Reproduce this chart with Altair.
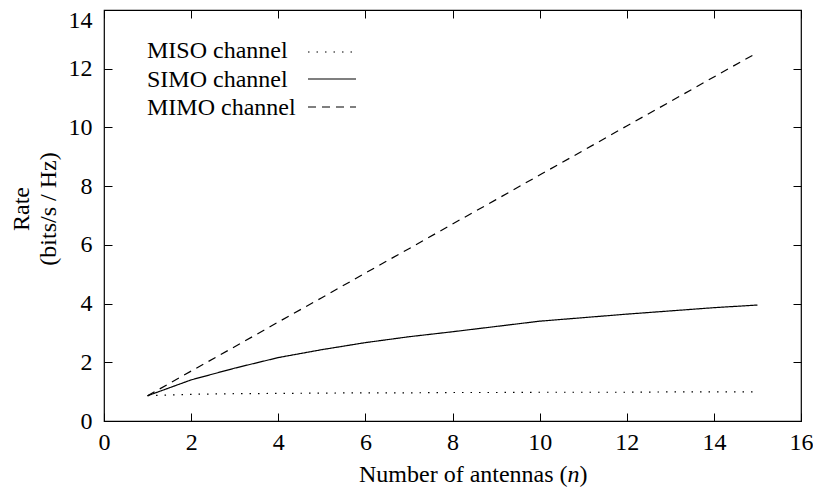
import altair as alt
import pandas as pd

# ---- data ----
n_antennas = list(range(1, 16))
miso_rate = [0.86, 0.91, 0.93, 0.94, 0.95, 0.96, 0.96, 0.97, 0.97, 0.98, 0.98, 0.98, 0.99, 0.99, 0.99]
simo_rate = [0.86, 1.40, 1.80, 2.16, 2.43, 2.67, 2.87, 3.04, 3.22, 3.40, 3.52, 3.64, 3.75, 3.86, 3.95]
mimo_rate = [0.86, 1.70, 2.53, 3.37, 4.20, 5.04, 5.87, 6.71, 7.54, 8.38, 9.21, 10.05, 10.88, 11.72, 12.55]
series_names = ["MISO channel", "SIMO channel", "MIMO channel"]
x_ticks = [0, 2, 4, 6, 8, 10, 12, 14, 16]
y_ticks = [0, 2, 4, 6, 8, 10, 12, 14]
y_title_lines = ["Rate", "(bits/s / Hz)"]
x_title_parts = ["Number of antennas (", "n", ")"]

FONT = "Liberation Serif"
FS = 24
W, H = 697, 411

rows = []
for name, vals in zip(series_names, [miso_rate, simo_rate, mimo_rate]):
    for n, v in zip(n_antennas, vals):
        rows.append({"n": n, "rate": v, "series": name})
df = pd.DataFrame(rows)

x_scale = alt.Scale(domain=[0, 16], nice=False, zero=False)
y_scale = alt.Scale(domain=[0, 14], nice=False, zero=False)
dash_scale = alt.Scale(domain=series_names, range=[[1.5, 7], [1, 0], [8, 6]])

common_axis = dict(offset=-8, tickSize=8, domain=False, grid=False, title=None,
                   tickColor="black", tickWidth=1, labelFont=FONT, labelFontSize=FS,
                   labelColor="black", labelFlush=False, labelOverlap=False, labelBound=False)

lines = alt.Chart(df).mark_line(color="black", strokeWidth=1.2).encode(
    x=alt.X("n:Q", scale=x_scale,
            axis=alt.Axis(orient="bottom", values=x_ticks, labelPadding=9, **common_axis)),
    y=alt.Y("rate:Q", scale=y_scale,
            axis=alt.Axis(orient="left", values=y_ticks, labelPadding=12,
                          labelBaseline={"condition": {"test": "datum.value == 14", "value": "top"},
                                         "value": "middle"},
                          labelOffset={"condition": {"test": "datum.value == 14", "value": -2},
                                       "value": 0},
                          **common_axis)),
    strokeDash=alt.StrokeDash("series:N", scale=dash_scale, legend=None),
    detail="series:N",
)

mirror = alt.Chart(df).mark_line(opacity=0).encode(
    x=alt.X("n:Q", scale=x_scale,
            axis=alt.Axis(orient="top", values=x_ticks, labels=False, **common_axis)),
    y=alt.Y("rate:Q", scale=y_scale,
            axis=alt.Axis(orient="right", values=y_ticks, labels=False, **common_axis)),
    detail="series:N",
)

layers = [lines, mirror]

# ---- custom legend (text left, line sample right, as in the reference) ----
legend_text_y = [48, 77, 105]
legend_line_y = [42, 69, 97]
legend_dash = [[1.5, 7], [1, 0], [8, 6]]
for i, name in enumerate(series_names):
    ldf = pd.DataFrame({"label": [name]})
    layers.append(
        alt.Chart(ldf).mark_text(font=FONT, fontSize=FS, align="left", baseline="alphabetic",
                                 color="black").encode(
            text="label:N", x=alt.value(43), y=alt.value(legend_text_y[i]))
    )
    layers.append(
        alt.Chart(ldf).mark_rule(color="black", strokeWidth=1.2, strokeDash=legend_dash[i]).encode(
            x=alt.value(204), x2=alt.value(252), y=alt.value(legend_line_y[i]))
    )

# ---- axis titles as text marks ----
ytdf0 = pd.DataFrame({"t": [y_title_lines[0]]})
ytdf1 = pd.DataFrame({"t": [y_title_lines[1]]})
layers.append(alt.Chart(ytdf0).mark_text(font=FONT, fontSize=FS, angle=270, align="center",
                                         baseline="middle", color="black").encode(
    text="t:N", x=alt.value(-82), y=alt.value(199)))
layers.append(alt.Chart(ytdf1).mark_text(font=FONT, fontSize=FS, angle=270, align="center",
                                         baseline="middle", color="black").encode(
    text="t:N", x=alt.value(-55), y=alt.value(199)))

xt0 = pd.DataFrame({"t": [x_title_parts[0]]})
xt1 = pd.DataFrame({"t": [x_title_parts[1]]})
xt2 = pd.DataFrame({"t": [x_title_parts[2]]})
layers.append(alt.Chart(xt0).mark_text(font=FONT, fontSize=FS, align="left", baseline="alphabetic",
                                       color="black").encode(
    text="t:N", x=alt.value(255), y=alt.value(472)))
layers.append(alt.Chart(xt1).mark_text(font=FONT, fontSize=FS, fontStyle="italic", align="left",
                                       baseline="alphabetic", color="black").encode(
    text="t:N", x=alt.value(463.6), y=alt.value(472)))
layers.append(alt.Chart(xt2).mark_text(font=FONT, fontSize=FS, align="left", baseline="alphabetic",
                                       color="black").encode(
    text="t:N", x=alt.value(475.6), y=alt.value(472)))

chart = alt.layer(*layers).resolve_axis(x="independent", y="independent").properties(
    width=W, height=H,
    autosize=alt.AutoSizeParams(type="none"),
    padding={"left": 96, "top": 2, "right": 12, "bottom": 70},
    background="white",
).configure_view(stroke="black", strokeWidth=1.2)

chart.save("out.html", embed_options={"renderer": "svg", "actions": False})
